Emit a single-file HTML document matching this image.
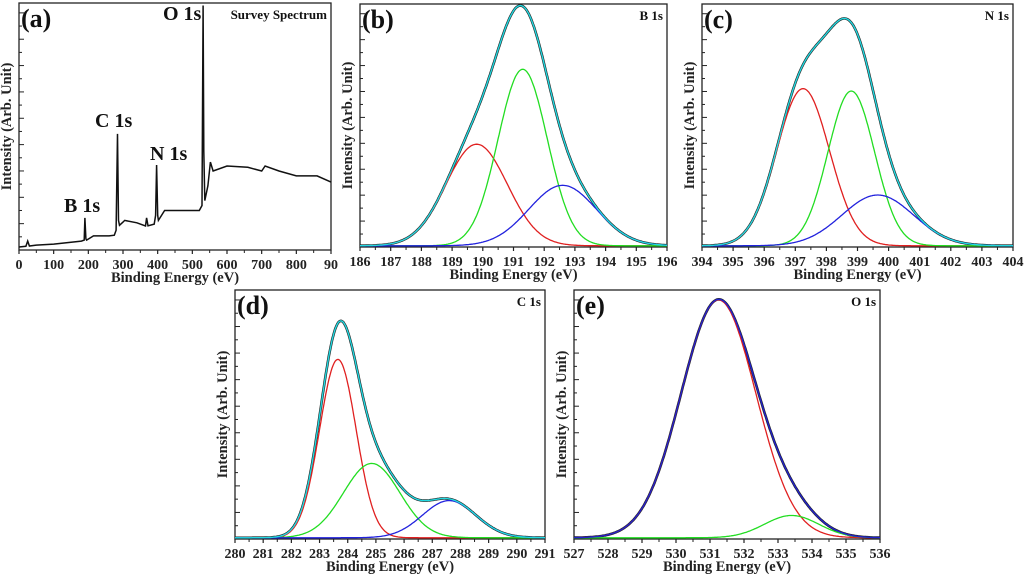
<!DOCTYPE html>
<html><head><meta charset="utf-8"><style>
html,body{margin:0;padding:0;background:#fff;}
svg{display:block;}
text{font-family:"Liberation Serif","DejaVu Serif",serif;font-weight:bold;}
.tl{font-size:14px;}
.at{font-size:14.5px;}
.pl{font-size:26px;}
.pk{font-size:13px;}
</style></head><body>
<svg id="fig" width="1024" height="576" viewBox="0 0 1024 576" xmlns="http://www.w3.org/2000/svg"></svg>
<script>
// Survey spectrum (a): [binding energy eV], [intensity %]
const surveyEV = [0,20,25,30,50,100,180,188,190,193,195,215,260,275,280,284,287,290,300,305,340,365,368,372,390,394,397,400,402,420,520,528,531,533,536,545,552,560,600,660,700,710,750,800,860,900];
const surveyI  = [1.2,1.5,3.6,1.6,2,2.4,3.6,4,13,4.5,4,5.7,5.7,6,8,47,12,10,11.3,12,11,9.7,13,9.8,10.5,14,34.4,14,12,16,16,18,99,40,20,26,35.6,32,34,33.5,32,34,32,30,30,27.5];
// Component fits: centres, heights (fraction), widths (sigma eV)
const bCenters=[189.8,191.3,192.6], bHeights=[0.42,0.73,0.25], bSigmas=[1.0,0.8,1.1];
const cCenters=[397.25,398.8,399.65], cHeights=[0.65,0.64,0.21], cSigmas=[0.85,0.75,1.15];
const dCenters=[283.65,284.85,287.6], dHeights=[0.72,0.30,0.15], dSigmas=[0.65,1.0,0.95];
const eCenters=[531.25,533.4], eHeights=[0.96,0.09], eSigmas=[1.1,0.8];
const bTicks=[186,187,188,189,190,191,192,193,194,195,196];
const cTicks=[394,395,396,397,398,399,400,401,402,403,404];
const dTicks=[280,281,282,283,284,285,286,287,288,289,290,291];
const eTicks=[527,528,529,530,531,532,533,534,535,536];
const aTicks=[0,100,200,300,400,500,600,700,800,900];

const NS="http://www.w3.org/2000/svg";
const svg=document.getElementById('fig');
function mk(tag,attrs,parent){const e=document.createElementNS(NS,tag);for(const k in attrs)e.setAttribute(k,attrs[k]);(parent||svg).appendChild(e);return e;}

function panel(id,box,ticks,xmin,xmax,ymin,ymax,label,peak,tickTexts){
  const g=mk('g',{});
  
  
  const [L,T,R,B]=box;
  const sx=v=>L+(v-xmin)/(xmax-xmin)*(R-L);
  const sy=v=>B-(v-ymin)/(ymax-ymin)*(B-T);
  const fr=mk('rect',{x:L,y:T,width:R-L,height:B-T,fill:'none',stroke:'#222','stroke-width':1.3},g);
  
  
  ticks.forEach((t,i)=>{
    const x=sx(t);
    mk('line',{x1:x,y1:B,x2:x,y2:B+4,stroke:'#222','stroke-width':1.2},g);
    if(i<ticks.length-1){const xm=sx(t+(ticks[1]-ticks[0])/2);mk('line',{x1:xm,y1:B,x2:xm,y2:B+3,stroke:'#222','stroke-width':1},g);}
    const tx=mk('text',{x:x,y:B+19,'text-anchor':'middle',class:'tl',fill:'#222'},g);
    tx.textContent=tickTexts?tickTexts[i]:t;
    
    
  });
  const n=9;
  for(let i=0;i<=2*n;i++){const y=B-(B-T)*i/(2*n)*0.96;mk('line',{x1:L,y1:y,x2:L+(i%2?3:5),y2:y,stroke:'#222','stroke-width':1},g);}
  const xt=mk('text',{x:(L+R)/2,y:B+32,'text-anchor':'middle',class:'at',fill:'#222'},g);
  xt.textContent='Binding Energy (eV)';
  
  
  const yx=L-8,yy=(T+B)/2;
  const yt=mk('text',{x:yx,y:yy,'text-anchor':'middle',class:'at',fill:'#222',transform:`rotate(-90 ${yx} ${yy})`},g);
  yt.textContent='Intensity (Arb. Unit)';
  
  
  const pl=mk('text',{x:L+2,y:T+24,class:'pl',fill:'#111'},g);
  pl.textContent=label;
  
  
  if(peak){const pk=mk('text',{x:R-4,y:T+16,'text-anchor':'end',class:'pk',fill:'#111'},g);pk.textContent=peak;
    
    }
  return {g,sx,sy};
}
function gauss(x,c,h,s){return h*Math.exp(-(x-c)*(x-c)/(2*s*s));}
function pathFrom(xs,ys,sx,sy){return xs.map((x,i)=>(i?'L':'M')+sx(x).toFixed(1)+' '+sy(ys[i]).toFixed(1)).join(' ');}

function fitPanel(id,box,ticks,centers,heights,sigmas,label,peak,colors,fitColor){
  const xmin=ticks[0],xmax=ticks[ticks.length-1];
  const p=panel(id,box,ticks,xmin,xmax,-0.005,1.0,label,peak);
  const N=300,xs=[];for(let i=0;i<=N;i++)xs.push(xmin+(xmax-xmin)*i/N);
  const comps=centers.map((c,k)=>xs.map(x=>gauss(x,c,heights[k],sigmas[k])));
  const sum=xs.map((x,i)=>comps.reduce((a,cc)=>a+cc[i],0));
  const raw=mk('path',{d:pathFrom(xs,sum,p.sx,p.sy),fill:'none',stroke:'#222','stroke-width':2.6},p.g);
  
  
  comps.forEach((cc,k)=>{const e=mk('path',{d:pathFrom(xs,cc,p.sx,p.sy),fill:'none',stroke:colors[k],'stroke-width':1.3},p.g);
    
    });
  const f=mk('path',{d:pathFrom(xs,sum,p.sx,p.sy),fill:'none',stroke:fitColor,'stroke-width':1.4},p.g);
  
  
}

(function(){
  const p=panel('a',[19,3,331,250],aTicks,0,900,0,100,'(a)','Survey Spectrum',['0','100','200','300','400','500','600','700','800','90']);
  const s=mk('path',{d:pathFrom(surveyEV,surveyI,p.sx,p.sy),fill:'none',stroke:'#111','stroke-width':1.5},p.g);
  
  
  [['B 1s',64,212],['C 1s',95,127],['N 1s',150,160],['O 1s',163,20]].forEach(a=>{
    const t=mk('text',{x:a[1],y:a[2],class:'pl',style:'font-size:20px',fill:'#111'},p.g);t.textContent=a[0];
    
    });
})();
fitPanel('b',[360,4,667,247],bTicks,bCenters,bHeights,bSigmas,'(b)','B 1s',['#e02020','#22dd22','#2222dd'],'#22d8e0');
fitPanel('c',[702,4,1013,247],cTicks,cCenters,cHeights,cSigmas,'(c)','N 1s',['#e02020','#22dd22','#2222dd'],'#22d8e0');
fitPanel('d',[235,290,545,539],dTicks,dCenters,dHeights,dSigmas,'(d)','C 1s',['#e02020','#22dd22','#2222dd'],'#22d8e0');
fitPanel('e',[574,290,880,539],eTicks,eCenters,eHeights,eSigmas,'(e)','O 1s',['#e02020','#22dd22'],'#2222cc');
</script>
</body></html>
